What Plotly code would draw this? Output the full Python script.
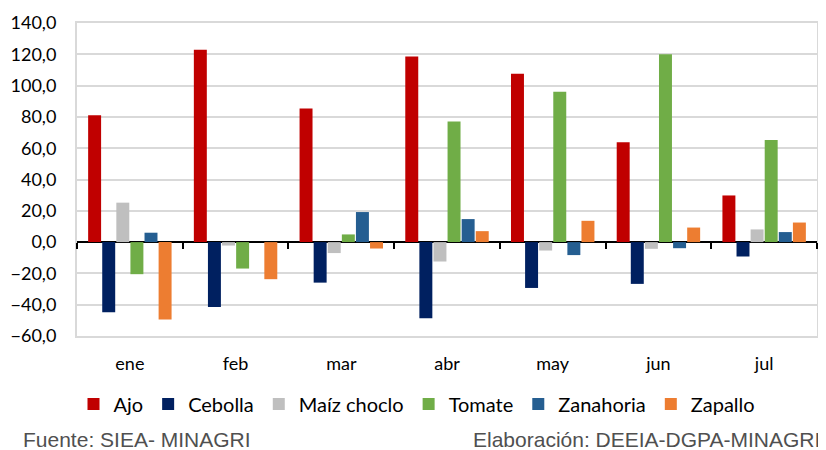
import plotly.graph_objects as go

months = ["ene", "feb", "mar", "abr", "may", "jun", "jul"]

ajo = [81.0, 122.9, 85.3, 118.6, 107.5, 63.8, 29.8]
cebolla = [-44.8, -41.4, -25.9, -48.7, -29.3, -26.7, -9.2]
maiz = [25.2, -2.2, -7.0, -12.4, -5.4, -4.3, 8.1]
tomate = [-20.5, -16.9, 4.9, 77.0, 96.0, 120.1, 65.3]
zanahoria = [6.0, 0.0, 19.2, 14.7, -8.3, -3.9, 6.4]
zapallo = [-49.5, -23.7, -4.1, 7.0, 13.6, 9.3, 12.5]

series = [
    ("Ajo", ajo, "#C00000"),
    ("Cebolla", cebolla, "#002060"),
    ("Maíz choclo", maiz, "#BFBFBF"),
    ("Tomate", tomate, "#70AD47"),
    ("Zanahoria", zanahoria, "#255E91"),
    ("Zapallo", zapallo, "#ED7D31"),
]

FONT = "Lato"
grid = "#D9D9D9"

# page body has an 8px margin, so the figure is drawn 8px smaller
W, H = 818, 442

fig = go.Figure()
for name, vals, color in series:
    fig.add_trace(go.Bar(x=months, y=vals, name=name, marker_color=color,
                         marker_line_width=0))

# helper trace so the boundary ticks can sit on the zero line
fig.add_trace(go.Scatter(x=months, y=[None] * len(months), xaxis="x2",
                         showlegend=False, hoverinfo="skip"))

fig.update_layout(
    width=W, height=H,
    margin=dict(l=69, r=9, t=15, b=114),
    paper_bgcolor="white", plot_bgcolor="white",
    barmode="group", bargap=0.2, bargroupgap=0.08,
    separators=",.",
    font=dict(family=FONT, size=18, color="#000000"),
    xaxis=dict(showgrid=False, ticks="", showline=True, mirror=True,
               linecolor=grid, linewidth=2, tickfont=dict(size=18),
               ticklabelstandoff=10, automargin=False),
    xaxis2=dict(overlaying="x", matches="x", anchor="free", position=0.3,
                ticks="outside", tickson="boundaries", ticklen=6,
                tickwidth=2, tickcolor="black", showticklabels=False,
                showgrid=False, showline=False, automargin=False),
    yaxis=dict(range=[-60, 140], dtick=20, tickformat=".1f",
               showgrid=True, gridcolor=grid, gridwidth=2,
               zeroline=True, zerolinecolor="black", zerolinewidth=2,
               showline=True, mirror=True, linecolor=grid, linewidth=2,
               ticks="", tickfont=dict(size=18), ticklabelstandoff=15,
               automargin=False),
    legend=dict(orientation="h", xref="container", yref="container",
                x=0.5, xanchor="center", y=0.104, yanchor="middle",
                font=dict(size=20), itemwidth=30, traceorder="normal"),
    annotations=[
        dict(text="Fuente: SIEA- MINAGRI", xref="paper", yref="paper",
             x=-56 / 740, y=-104 / 313, xanchor="left", yanchor="middle",
             showarrow=False,
             font=dict(family="Liberation Sans", size=21, color="#505050")),
        dict(text="Elaboración: DEEIA-DGPA-MINAGRI", xref="paper", yref="paper",
             x=1 + 5 / 740, y=-104 / 313, xanchor="right", yanchor="middle",
             showarrow=False,
             font=dict(family="Liberation Sans", size=21, color="#505050")),
    ],
)

fig.write_html("out.html")
